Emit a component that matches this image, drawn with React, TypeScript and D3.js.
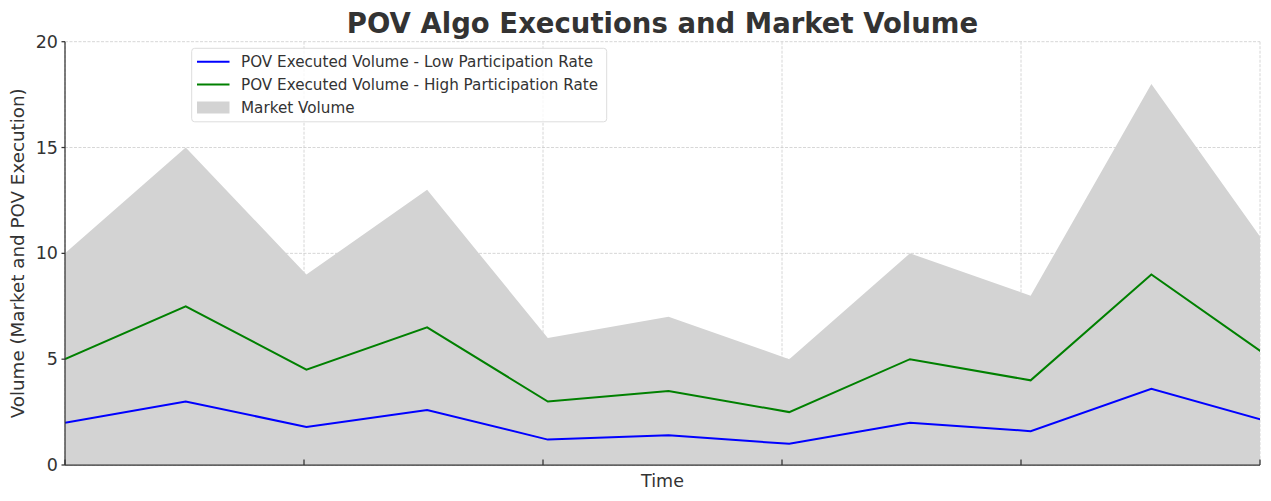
import React from "react";
import * as d3 from "d3";

const timeIndex = [0, 1, 2, 3, 4, 5, 6, 7, 8, 9, 10];
const marketVolume = [10, 15, 9, 13, 6, 7, 5, 10, 8, 18, 10];
const highParticipation = [5, 7.5, 4.5, 6.5, 3, 3.5, 2.5, 5, 4, 9, 5];
const lowParticipation = [2, 3, 1.8, 2.6, 1.2, 1.4, 1, 2, 1.6, 3.6, 2];
const xTicks = [0, 1.98, 3.96, 5.94, 7.92, 9.9];
const yTicks = [0, 5, 10, 15, 20];
const legendLabels = [
  "POV Executed Volume - Low Participation Rate",
  "POV Executed Volume - High Participation Rate",
  "Market Volume",
];

const W = 1271;
const H = 501;
const M = { left: 65, right: 1260, top: 41.7, bottom: 465 };
const FONT = "DejaVu Sans, sans-serif";
const TXT = "#333333";

export default function App() {
  const x = d3.scaleLinear().domain([0, 9.9]).range([M.left, M.right]);
  const y = d3.scaleLinear().domain([0, 20]).range([M.bottom, M.top]);

  const area = d3
    .area<number>()
    .x((_, i) => x(timeIndex[i]))
    .y0(y(0))
    .y1((d) => y(d));
  const line = d3
    .line<number>()
    .x((_, i) => x(timeIndex[i]))
    .y((d) => y(d));

  const legendX = 191.7;
  const legendY = 48.3;
  const rowY = [61.7, 84.5, 107.5];

  return (
    <svg
      width={W}
      height={H}
      style={{ position: "absolute", left: 0, top: 0, background: "#fff" }}
      fontFamily={FONT}
    >
      <defs>
        <clipPath id="plot">
          <rect x={M.left} y={M.top} width={M.right - M.left} height={M.bottom - M.top} />
        </clipPath>
      </defs>
      <rect x={0} y={0} width={W} height={H} fill="#fff" />

      {/* grid */}
      {yTicks.map((t) => (
        <line
          key={"gy" + t}
          x1={M.left}
          x2={M.right}
          y1={y(t)}
          y2={y(t)}
          stroke="#cccccc"
          strokeWidth={0.8}
          strokeDasharray="3,1.5"
        />
      ))}
      {xTicks.map((t) => (
        <line
          key={"gx" + t}
          x1={x(t)}
          x2={x(t)}
          y1={M.top}
          y2={M.bottom}
          stroke="#cccccc"
          strokeWidth={0.8}
          strokeDasharray="3,1.5"
        />
      ))}

      <g clipPath="url(#plot)">
        <path d={area(marketVolume) || ""} fill="#d3d3d3" />
        <path d={line(lowParticipation) || ""} fill="none" stroke="#0000ff" strokeWidth={2} />
        <path d={line(highParticipation) || ""} fill="none" stroke="#008000" strokeWidth={2} />
      </g>

      {/* axes */}
      <line x1={M.left} x2={M.left} y1={M.top} y2={M.bottom} stroke={TXT} strokeWidth={1.25} />
      <line x1={M.left} x2={M.right} y1={M.bottom} y2={M.bottom} stroke={TXT} strokeWidth={1.25} />
      {yTicks.map((t) => (
        <g key={"ty" + t}>
          <line x1={M.left - 3.5} x2={M.left} y1={y(t)} y2={y(t)} stroke={TXT} strokeWidth={1.25} />
          <text
            x={58}
            y={y(t)}
            textAnchor="end"
            dominantBaseline="central"
            fontSize={17.5}
            fill={TXT}
          >
            {t}
          </text>
        </g>
      ))}
      {xTicks.map((t) => (
        <line
          key={"tx" + t}
          x1={x(t)}
          x2={x(t)}
          y1={M.bottom - 5.5}
          y2={M.bottom}
          stroke={TXT}
          strokeWidth={1.25}
        />
      ))}

      {/* labels */}
      <text
        x={(M.left + M.right) / 2}
        y={32.5}
        textAnchor="middle"
        fontSize={27.5}
        fontWeight="bold"
        fill={TXT}
      >
        POV Algo Executions and Market Volume
      </text>
      <text x={(M.left + M.right) / 2} y={486.5} textAnchor="middle" fontSize={17.5} fill={TXT}>
        Time
      </text>
      <text
        transform={`translate(24, ${(M.top + M.bottom) / 2}) rotate(-90)`}
        textAnchor="middle"
        fontSize={18.3}
        fill={TXT}
      >
        Volume (Market and POV Execution)
      </text>

      {/* legend */}
      <rect
        x={legendX}
        y={legendY}
        width={415}
        height={73.5}
        rx={3}
        fill="#ffffff"
        fillOpacity={0.8}
        stroke="#dddddd"
        strokeWidth={1}
      />
      <line x1={197} x2={229.5} y1={rowY[0]} y2={rowY[0]} stroke="#0000ff" strokeWidth={2} />
      <line x1={197} x2={229.5} y1={rowY[1]} y2={rowY[1]} stroke="#008000" strokeWidth={2} />
      <rect x={197} y={rowY[2] - 6} width={32.5} height={12} fill="#d3d3d3" />
      {legendLabels.map((l, i) => (
        <text
          key={l}
          x={241}
          y={rowY[i]}
          dominantBaseline="central"
          fontSize={15.2}
          fill={TXT}
        >
          {l}
        </text>
      ))}
    </svg>
  );
}
